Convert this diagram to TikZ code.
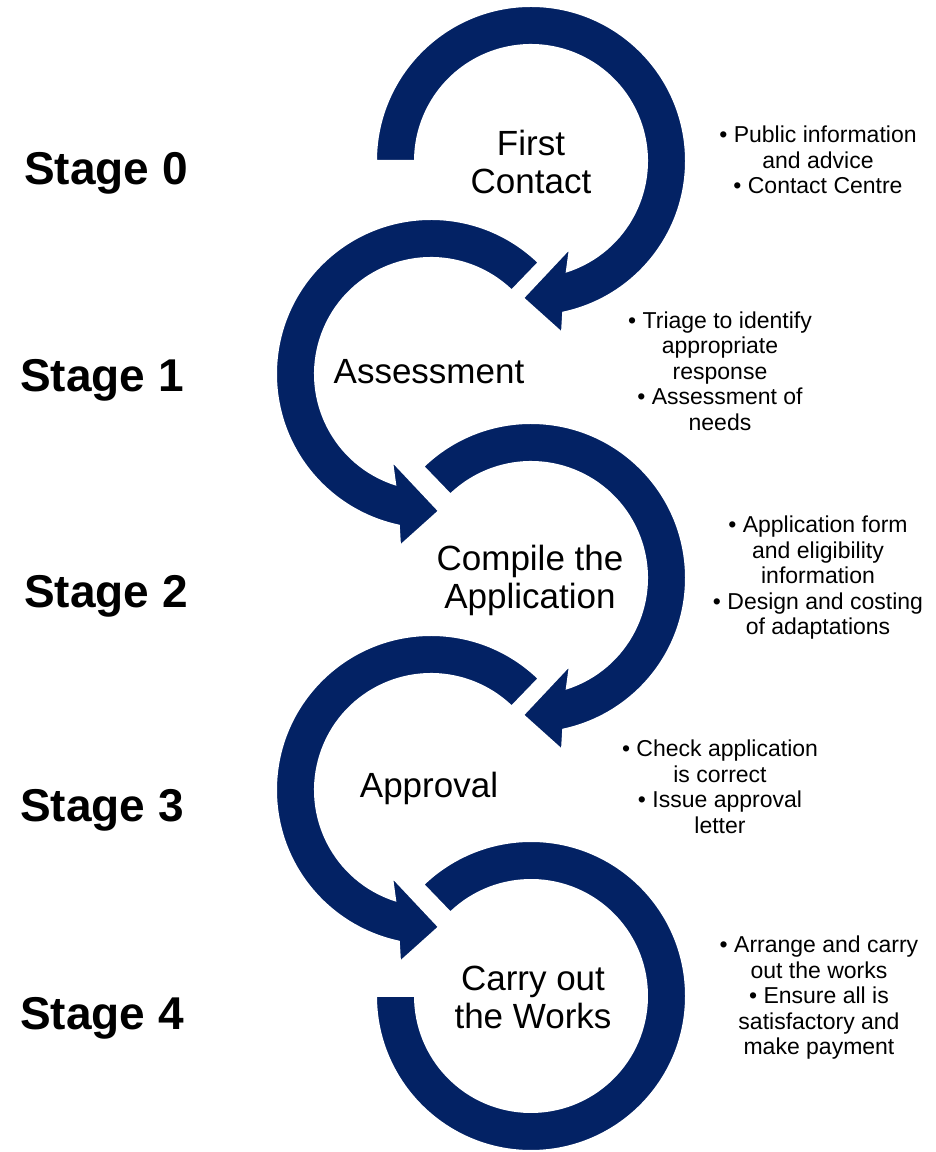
\documentclass[tikz,border=0pt]{standalone}
\usepackage{fontspec}
\setmainfont{Liberation Sans}
\definecolor{stageblue}{RGB}{3,34,100}
\tikzset{
  ring/.style={fill=stageblue, draw=white, line width=2},
  stagelabel/.style={font=\fontsize{46}{50}\selectfont\bfseries, anchor=base},
  steplabel/.style={font=\fontsize{35}{38}\selectfont, align=center},
  notes/.style={font=\fontsize{23}{25.5}\selectfont, align=center},
}
\begin{document}
\begin{tikzpicture}[x=1pt,y=1pt]
            \def\rin{116}
            \def\rout{155}
            \useasboundingbox (0,0) rectangle (935,1152);

            % stage 0: clockwise ring from the left, head at the bottom
            \begin{scope}[shift={(531,991)}]
                \draw[ring] (180:\rout) arc[start angle=180, end angle=-78, radius=\rout]
                    -- (31,-172) -- (-8,-137) -- (39,-87) -- (-72:\rin)
                    arc[start angle=-72, end angle=180, radius=\rin] -- cycle;
            \end{scope}

            % stage 1: the same ring, mirrored
            \begin{scope}[shift={(431,778)}, xscale=-1]
                \draw[ring] (134:\rout) arc[start angle=134, end angle=-78, radius=\rout]
                    -- (31,-172) -- (-8,-137) -- (39,-87) -- (-72:\rin)
                    arc[start angle=-72, end angle=134, radius=\rin] -- cycle;
            \end{scope}

            % stage 2
            \begin{scope}[shift={(531,574)}]
                \draw[ring] (134:\rout) arc[start angle=134, end angle=-78, radius=\rout]
                    -- (31,-172) -- (-8,-137) -- (39,-87) -- (-72:\rin)
                    arc[start angle=-72, end angle=134, radius=\rin] -- cycle;
            \end{scope}

            % stage 3
            \begin{scope}[shift={(431,362)}, xscale=-1]
                \draw[ring] (134:\rout) arc[start angle=134, end angle=-78, radius=\rout]
                    -- (31,-172) -- (-8,-137) -- (39,-87) -- (-72:\rin)
                    arc[start angle=-72, end angle=134, radius=\rin] -- cycle;
            \end{scope}

            % stage 4: open ring, no head
            \begin{scope}[shift={(531,156)}]
                \draw[ring] (180:\rout) arc[start angle=180, end angle=494, radius=\rout]
                    -- (494:\rin) arc[start angle=494, end angle=180, radius=\rin] -- cycle;
            \end{scope}

            % stage names
            \node[stagelabel] (stage0) at (106,967) {Stage 0};
            \node[stagelabel] (stage1) at (102,760) {Stage 1};
            \node[stagelabel] (stage2) at (106,544) {Stage 2};
            \node[stagelabel] (stage3) at (102,330) {Stage 3};
            \node[stagelabel] (stage4) at (102,122) {Stage 4};

            % inside the rings
            \node[steplabel] (contact) at (531,990) {First\\Contact};
            \node[steplabel] (assess) at (429,780) {Assessment};
            \node[steplabel] (compile) at (530,572) {Compile the\\Application};
            \node[steplabel] (approve) at (429,364) {Approval};
            \node[steplabel] (works) at (533,155) {Carry out\\the Works};

            % what happens at each stage
            \node[notes] (notes0) at (818,992) {• Public information\\and advice\\• Contact Centre};
            \node[notes] (notes1) at (720,781) {• Triage to identify\\appropriate\\response\\• Assessment of\\needs};
            \node[notes] (notes2) at (818,574) {• Application form\\and eligibility\\information\\• Design and costing\\of adaptations};
            \node[notes] (notes3) at (720,365) {• Check application\\is correct\\• Issue approval\\letter};
            \node[notes] (notes4) at (819,154) {• Arrange and carry\\out the works\\• Ensure all is\\satisfactory and\\make payment};
        \end{tikzpicture}
\end{document}
